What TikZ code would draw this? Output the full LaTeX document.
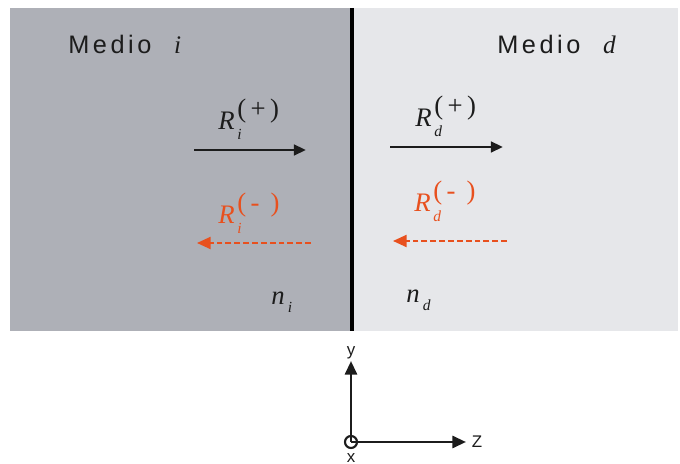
\documentclass[tikz,border=0pt]{standalone}
\usepackage{fontspec}
\setmainfont{Liberation Serif}
\setsansfont{Liberation Sans}
\usetikzlibrary{arrows.meta,positioning}
\definecolor{medgrey}{HTML}{AEB0B7}
\definecolor{medlight}{HTML}{E6E7EA}
\definecolor{medorange}{HTML}{E8501E}
\definecolor{meddark}{HTML}{1C1C1C}

% symbol with lowered subscript and raised full-size superscript
\newcommand{\medsym}[3]{{\itshape #1}\hspace{0.1em}\rlap{\raisebox{-0.35em}{\fontsize{11}{11}\selectfont\itshape #2}}%
  \raisebox{0.47em}{#3}}
\newcommand{\medidx}[2]{{\itshape #1}\hspace{0.12em}\raisebox{-0.28em}{\fontsize{11}{11}\selectfont\itshape #2}}

\tikzset{
  medlabel/.style={font=\sffamily\fontsize{18}{20}\selectfont\addfontfeatures{LetterSpace=14},
    text=meddark,anchor=base west,inner sep=0pt},
  rlabel/.style={font=\fontsize{19}{21}\selectfont,inner sep=0pt,text=meddark,anchor=base west},
  nlabel/.style={font=\fontsize{19}{21}\selectfont,inner sep=0pt,text=meddark,anchor=base west},
  forward/.style={meddark,line width=2.1pt,-{Triangle[length=3mm,width=2.6mm]}},
  backward/.style={medorange,line width=1.4pt,dash pattern=on 4.2pt off 2.1pt,
    -{Triangle[length=3.4mm,width=3mm]}},
  axis/.style={meddark,line width=1.9pt,-{Triangle[length=3.4mm,width=3mm]}},
  axlabel/.style={font=\sffamily\fontsize{12}{14}\selectfont,text=meddark,inner sep=0pt}
}

\begin{document}
\begin{tikzpicture}[x=0.025cm,y=-0.025cm]
\useasboundingbox (0,0) rectangle (680,464);
% the two media
\fill[medgrey] (10,8) rectangle (352,331);
\fill[medlight] (352,8) rectangle (678,331);
\draw[black,line width=2.2pt] (352,8) -- (352,331);

\node[medlabel] (medioi) at (68,54) {Medio\hspace{0.9em}{\rmfamily\itshape i}};
\node[medlabel] (mediod) at (497,54) {Medio\hspace{0.9em}{\rmfamily\itshape d}};

% incident side
\node[rlabel] (rip) at (218,130) {\medsym{R}{i}{(\,+\,)}};
\coordinate (rips) at (194,150);
\coordinate (ripe) at (306,150);
\draw[forward] (rips) -- (ripe);

\node[rlabel,text=medorange] (rim) at (218,224) {\medsym{R}{i}{(\,-\ \,)}};
\coordinate (rims) at (311,243);
\coordinate (rime) at (197,243);
\draw[backward] (rims) -- (rime);

% transmitted side
\node[rlabel] (rdp) at (415,127) {\medsym{R}{d}{(\,+\,)}};
\coordinate (rdps) at (390,147);
\coordinate (rdpe) at (503,147);
\draw[forward] (rdps) -- (rdpe);

\node[rlabel,text=medorange] (rdm) at (414,212) {\medsym{R}{d}{(\,-\ \,)}};
\coordinate (rdms) at (507,241);
\coordinate (rdme) at (393,241);
\draw[backward] (rdms) -- (rdme);

\node[nlabel] (ni) at (271,305) {\medidx{n}{i}};
\node[nlabel] (nd) at (406,303) {\medidx{n}{d}};

% axes
\coordinate (orig) at (351,442);
\coordinate (ytip) at (351,361);
\coordinate (ztip) at (466,442);
\draw[meddark,line width=1.5pt] (orig) circle (6);
\draw[axis] (orig) -- (ytip);
\draw[axis] (orig) -- (ztip);
\node[axlabel,above=1.5pt of ytip] (ylab) {y};
\node[axlabel,right=4pt of ztip] (zlab) {Z};
\node[axlabel] (xlab) at (351,458) {x};
\end{tikzpicture}
\end{document}
